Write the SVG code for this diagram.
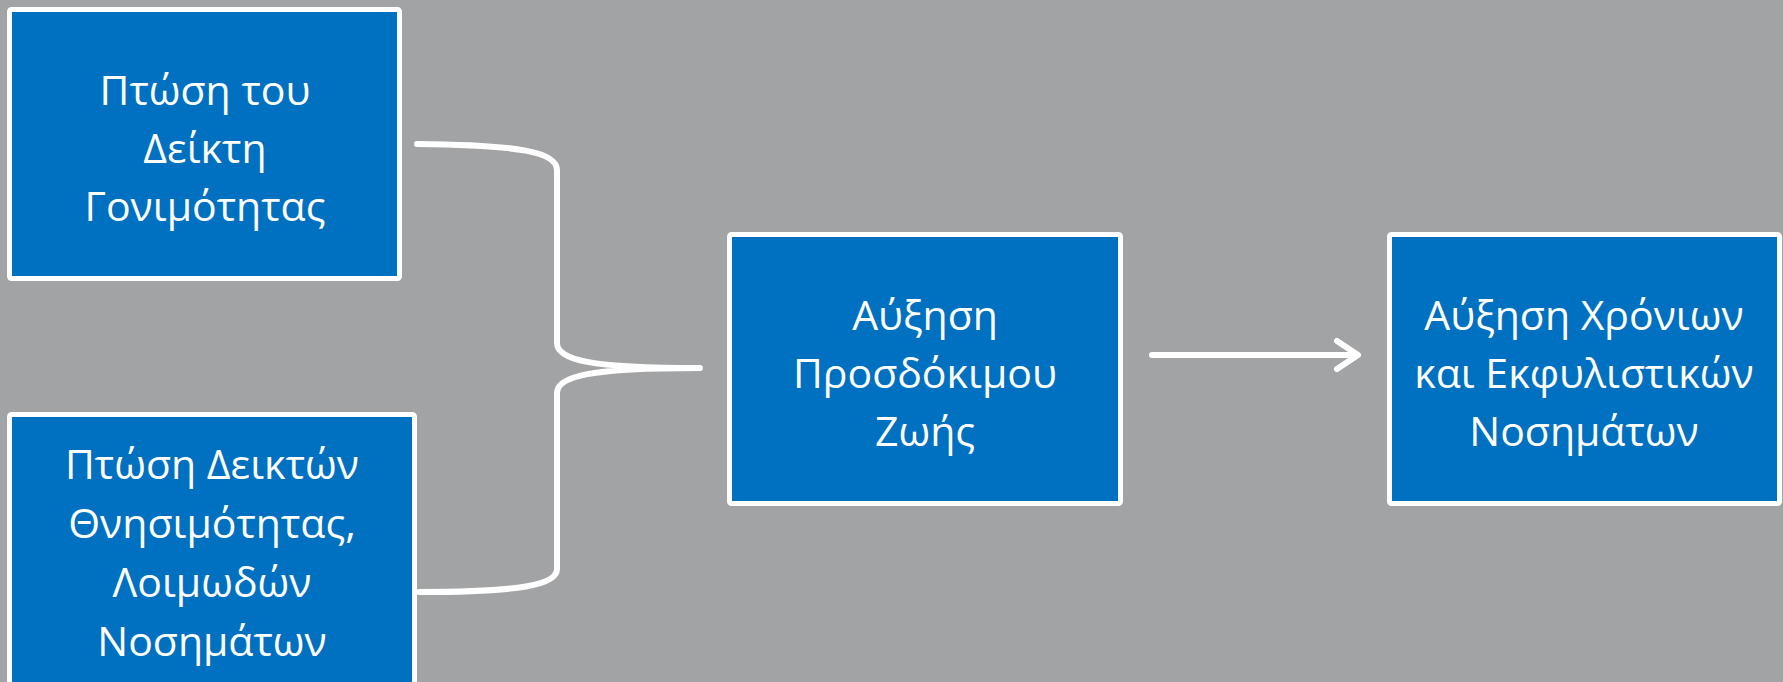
<svg xmlns="http://www.w3.org/2000/svg" width="1783" height="682" viewBox="0 0 1783 682">
  <style>
    .box { fill: #0070C0; stroke: #FFFFFF; stroke-width: 5; }
    .label { font-family: "Open Sans", "Noto Sans", "DejaVu Sans", sans-serif; font-size: 41px; fill: #FFFFFF; text-anchor: middle; }
    .link { fill: none; stroke: #FFFFFF; stroke-width: 6; stroke-linecap: round; stroke-linejoin: round; }
  </style>
  <rect width="1783" height="682" fill="#A2A3A5"/>

  <g id="fertility">
    <rect class="box" x="9.5" y="9.5" width="390" height="269" rx="2"/>
    <text class="label" x="205" y="105">Πτώση του</text>
    <text class="label" x="205" y="163">Δείκτη</text>
    <text class="label" x="205" y="221">Γονιμότητας</text>
  </g>

  <g id="mortality">
    <rect class="box" x="9.5" y="414.5" width="405" height="300" rx="2"/>
    <text class="label" x="212" y="479">Πτώση Δεικτών</text>
    <text class="label" x="212" y="538">Θνησιμότητας,</text>
    <text class="label" x="212" y="597">Λοιμωδών</text>
    <text class="label" x="212" y="656">Νοσημάτων</text>
  </g>

  <g id="life-expectancy">
    <rect class="box" x="729.5" y="234.5" width="391" height="269" rx="2"/>
    <text class="label" x="925" y="330">Αύξηση</text>
    <text class="label" x="925" y="388">Προσδόκιμου</text>
    <text class="label" x="925" y="446">Ζωής</text>
  </g>

  <g id="chronic-diseases">
    <rect class="box" x="1389.5" y="234.5" width="390" height="269" rx="2"/>
    <text class="label" x="1584" y="330">Αύξηση Χρόνιων</text>
    <text class="label" x="1584" y="388">και Εκφυλιστικών</text>
    <text class="label" x="1584" y="446">Νοσημάτων</text>
  </g>

  <g id="connectors">
    <!-- brace joining the two causes -->
    <path class="link" d="M417,144 C520,145 557,152 557,170 L557,343 C557,360 590,368 700,368 C590,368 557,376 557,393 L557,569 C557,585 520,592 419,592"/>
    <!-- arrow to the outcome -->
    <path class="link" d="M1152,355 L1357,355"/>
    <path class="link" d="M1337,341 L1358,355 L1337,369"/>
  </g>
</svg>
